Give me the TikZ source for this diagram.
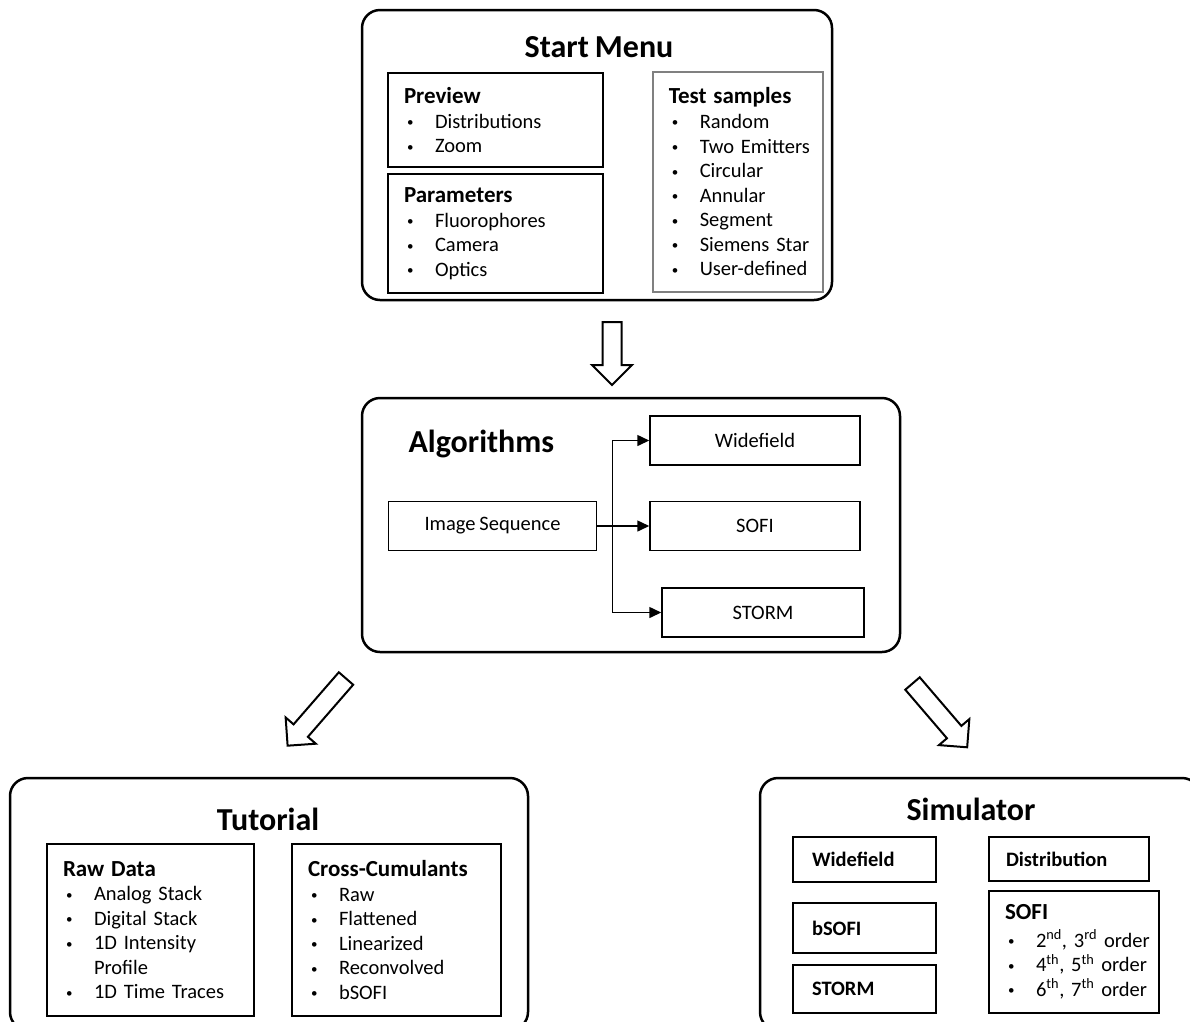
\documentclass[tikz,border=0pt]{standalone}
\usepackage{fontspec}
\setmainfont{Carlito}[WordSpace=0.85]
\usetikzlibrary{positioning,calc,arrows.meta}

\newcommand{\bodyfont}{\fontsize{20.5}{24.5}\selectfont}
\newcommand{\titlefont}{\fontsize{32}{36}\selectfont\bfseries}
\newcommand{\hd}[1]{\mbox{\fontsize{23}{24.5}\selectfont\bfseries #1}}
\newcommand{\dotmark}{\raisebox{1.5pt}{\fontsize{13}{13}\selectfont\textbullet}}
\newcommand{\itm}[1]{\mbox{\hspace*{3pt}\makebox[28pt][l]{\dotmark}#1}}

\tikzset{
  panel/.style={draw, line width=2.5pt, rounded corners=18pt},
  paneltitle/.style={anchor=base, font=\titlefont},
  listbox/.style={draw, line width=2pt, anchor=north west, align=left,
    inner xsep=16pt, inner ysep=0pt, font=\bodyfont},
  algbox/.style={draw, line width=1.5pt, minimum width=210pt,
    minimum height=49pt, font=\bodyfont},
  simbox/.style={listbox, inner xsep=19pt, font=\bodyfont\bfseries},
  bigarrow/.style={draw, line width=2pt, fill=white, line join=miter},
  flow/.style={line width=1.5pt, -{Triangle[length=12pt,width=11pt]}},
}

% block arrow: tail centre, angle, length
\newcommand{\blockarrow}[3]{%
  \draw[bigarrow, shift={#1}, rotate=#2]
    (0,9.5) -- ({#3-20},9.5) -- ({#3-20},20) -- (#3,0)
    -- ({#3-20},-20) -- ({#3-20},-9.5) -- (0,-9.5) -- cycle;}

\begin{document}
\begin{tikzpicture}[x=1pt,y=1pt]
  \useasboundingbox (0,0) rectangle (1190,-1021);
  \clip (0,0) rectangle (1190,-1021);

  % start menu
  \node[panel, minimum width=470pt, minimum height=290pt] (start) at (597,-155) {};
  \node[paneltitle] (starttitle) at (599,-57) {Start Menu};
  \node[listbox, text width=183pt, minimum height=94pt] (preview) at (387,-72)
    {\hd{Preview}\\\itm{Distributions}\\\itm{Zoom}};
  \node[listbox, text width=183pt, minimum height=119pt,
    below=5pt of preview.south west, anchor=north west] (params)
    {\hd{Parameters}\\\itm{Fluorophores}\\\itm{Camera}\\\itm{Optics}};
  \node[listbox, draw=gray, line width=1.5pt, text width=138pt, minimum height=220pt] (samples) at (652,-71)
    {\hd{Test samples}\\\itm{Random}\\\itm{Two Emitters}\\\itm{Circular}\\\itm{Annular}\\
     \itm{Segment}\\\itm{Siemens Star}\\\itm{User-defined}};

  \coordinate (downtail) at (612,-322);
  \blockarrow{(downtail)}{-90}{63}

  % algorithms
  \node[panel, minimum width=538pt, minimum height=254pt] (algo) at (631,-525) {};
  \node[anchor=base west, font=\fontsize{32}{36}\selectfont\bfseries] (algotitle) at (405,-452) {Algorithms};
  \node[algbox] (wide) at (755,-440.5) {Widefield};
  \node[algbox, below=35pt of wide] (sofi) {SOFI};
  \node[algbox, minimum width=202pt, below=36pt of sofi, xshift=8pt] (storm) {STORM};
  \node[algbox, minimum width=208pt, left=52pt of sofi] (iseq) {Image Sequence};

  \coordinate (split) at ($(iseq.east)+(15,0)$);
  \draw[flow] (iseq) -- (sofi);
  \draw[flow] (split) |- (wide);
  \draw[flow] (split) |- (storm);

  \coordinate (lefttail) at (346,-678.5);
  \coordinate (righttail) at (912.5,-683.5);
  \blockarrow{(lefttail)}{229}{89}
  \blockarrow{(righttail)}{-49.4}{84}

  % tutorial
  \node[panel, minimum width=518pt, minimum height=252pt] (tutorial) at (269,-904) {};
  \node[paneltitle] (tuttitle) at (268,-830) {Tutorial};
  \node[listbox, text width=175pt, minimum height=172pt] (rawdata) at (46,-843)
    {\hd{Raw Data}\\\itm{Analog Stack}\\\itm{Digital Stack}\\\itm{1D Intensity}\\
     \hspace*{31pt}Profile\\\itm{1D Time Traces}};
  \node[listbox, text width=177pt, minimum height=172pt,
    right=36pt of rawdata.north east, anchor=north west] (cumulants)
    {\hd{Cross-Cumulants}\\\itm{Raw}\\\itm{Flattened}\\\itm{Linearized}\\
     \itm{Reconvolved}\\\itm{bSOFI}};

  % simulator
  \node[panel, minimum width=440pt, minimum height=252pt] (simulator) at (980,-904) {};
  \node[paneltitle] (simtitle) at (971,-820) {Simulator};
  \node[simbox, text width=105pt, minimum height=45pt] (simwide) at (792,-836) {Widefield};
  \node[simbox, text width=105pt, minimum height=50pt] (simbsofi) at (792,-902) {bSOFI};
  \node[simbox, text width=105pt, minimum height=48pt] (simstorm) at (792,-964) {STORM};
  \node[simbox, inner xsep=17pt, text width=126pt, minimum height=44pt] (simdist) at (988,-836) {Distribution};
  \node[listbox, text width=138pt, minimum height=122pt] (simsofi) at (988,-890)
    {\hd{SOFI}\\[3pt]\itm{2\textsuperscript{nd}, 3\textsuperscript{rd} order}\\
     \itm{4\textsuperscript{th}, 5\textsuperscript{th} order}\\\itm{6\textsuperscript{th}, 7\textsuperscript{th} order}};
\end{tikzpicture}
\end{document}
